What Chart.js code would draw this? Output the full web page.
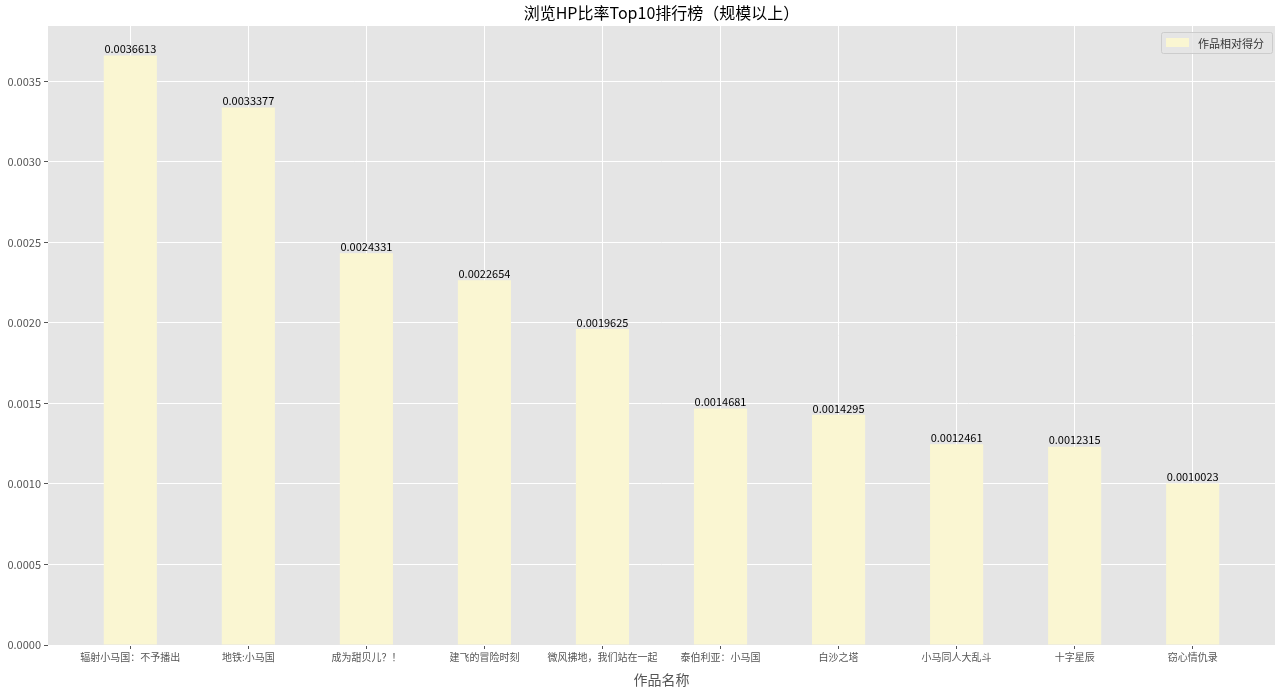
<!DOCTYPE html>
<html><head><meta charset="utf-8">
<script src="https://cdn.jsdelivr.net/npm/chart.js@4"></script>
<style>html,body{margin:0;padding:0;background:#fff}#wrap{width:1280px;height:688px}</style>
</head><body><div id="wrap"><canvas id="c" width="1280" height="688"></canvas></div>
<script>
const categories = ["辐射小马国：不予播出","地铁:小马国","成为甜贝儿？！","建飞的冒险时刻","微风拂地，我们站在一起","泰伯利亚：小马国","白沙之塔","小马同人大乱斗","十字星辰","窃心情仇录"];
const scores = [0.0036613,0.0033377,0.0024331,0.0022654,0.0019625,0.0014681,0.0014295,0.0012461,0.0012315,0.0010023];
const yTicks = [0,0.0005,0.0010,0.0015,0.0020,0.0025,0.0030,0.0035];
const titleText = "浏览HP比率Top10排行榜（规模以上）";
const xTitle = "作品名称";
const seriesLabel = "作品相对得分";

const FONT = "'Noto Sans CJK SC','Noto Sans',sans-serif";
const barColor = "#FAF6D2";
const yMax = Math.max(...scores) * 1.05;
const xPad = 0.225 + 9.45 * 0.05;

const deco = {
  id: 'deco',
  beforeDraw(chart) {
    const {ctx, chartArea: a} = chart;
    ctx.save();
    ctx.fillStyle = '#E5E5E5';
    ctx.fillRect(a.left, a.top, a.right - a.left, a.bottom - a.top);
    ctx.restore();
  },
  afterDatasetsDraw(chart) {
    const {ctx, chartArea: a} = chart;
    const meta = chart.getDatasetMeta(0);
    ctx.save();
    ctx.fillStyle = '#000';
    ctx.font = "11px " + FONT;
    ctx.textAlign = 'center';
    ctx.textBaseline = 'bottom';
    meta.data.forEach((bar, i) => {
      ctx.fillText(scores[i].toFixed(7), bar.x, bar.y - 1);
    });
    // title
    ctx.font = "16px " + FONT;
    ctx.fillStyle = '#000';
    ctx.textBaseline = 'middle';
    ctx.fillText(titleText, (a.left + a.right) / 2, 13);
    // legend
    const lx = 1161, ly = 32, lw = 111, lh = 21;
    ctx.fillStyle = 'rgba(229,229,229,0.8)';
    ctx.strokeStyle = '#CCCCCC';
    ctx.lineWidth = 1;
    ctx.beginPath();
    if (ctx.roundRect) ctx.roundRect(lx + 0.5, ly + 0.5, lw, lh, 2); else ctx.rect(lx + 0.5, ly + 0.5, lw, lh);
    ctx.fill(); ctx.stroke();
    ctx.fillStyle = barColor;
    ctx.fillRect(lx + 5, ly + 6, 23, 9);
    ctx.fillStyle = '#333';
    ctx.font = "11px " + FONT;
    ctx.textAlign = 'left';
    ctx.fillText(seriesLabel, lx + 37, ly + lh / 2 + 1);
    ctx.restore();
  }
};

new Chart(document.getElementById('c'), {
  type: 'bar',
  data: {
    datasets: [{
      label: seriesLabel,
      data: scores.map((v, i) => ({x: i, y: v})),
      backgroundColor: barColor,
      borderWidth: 0,
      barPercentage: 0.45,
      categoryPercentage: 1.0
    }]
  },
  options: {
    responsive: false,
    animation: false,
    layout: {padding: {top: 26, right: 5, left: 0, bottom: 0}},
    plugins: {legend: {display: false}, title: {display: false}, tooltip: {enabled: false}},
    scales: {
      x: {
        type: 'linear',
        min: -xPad, max: 9 + xPad,
        offset: false,
        afterBuildTicks: s => { s.ticks = categories.map((c, i) => ({value: i})); },
        afterFit: s => { s.height = 43; },
        ticks: {
          callback: v => categories[v] ?? '',
          font: {size: 10, family: FONT}, color: '#555', padding: 2,
          maxRotation: 0, autoSkip: false
        },
        grid: {offset: false, color: '#FFFFFF', lineWidth: 1, tickColor: '#555', tickLength: 4, drawTicks: true},
        border: {display: false},
        title: {display: true, text: xTitle, font: {size: 14, family: FONT}, color: '#555', padding: {top: 1, bottom: 0}}
      },
      y: {
        min: 0, max: yMax,
        afterBuildTicks: s => { s.ticks = yTicks.map(v => ({value: v})); },
        afterFit: s => { s.width = 48; },
        ticks: {
          callback: v => v.toFixed(4),
          font: {size: 11, family: FONT}, color: '#555', padding: 3
        },
        grid: {color: '#FFFFFF', lineWidth: 1, tickColor: '#555', tickLength: 4},
        border: {display: false}
      }
    }
  },
  plugins: [deco]
});
</script>
</body></html>
